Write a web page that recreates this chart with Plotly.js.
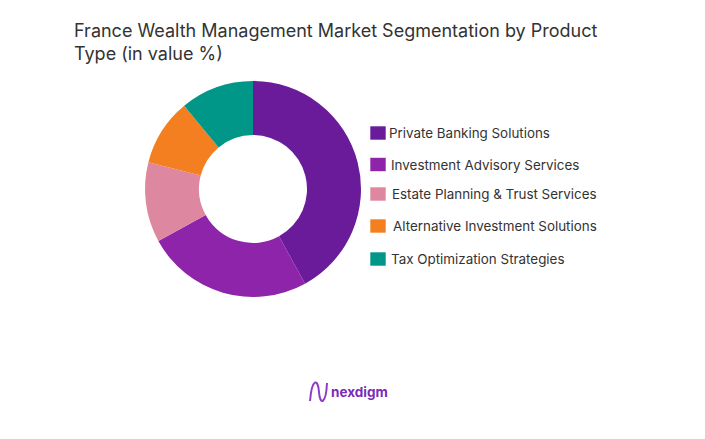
<!DOCTYPE html>
<html>
<head>
<meta charset="utf-8">
<script src="https://cdn.plot.ly/plotly-3.0.1.min.js"></script>
<style>html,body{margin:0;padding:0;background:#fff;}#chart{width:705px;height:439px;}</style>
</head>
<body>
<div id="chart"></div>
<script>
var categories = ["Private Banking Solutions", "Investment Advisory Services", "Estate Planning & Trust Services", "Alternative Investment Solutions", "Tax Optimization Strategies"];
var values = [42, 25, 12, 10, 11];
var colors = ["#6A1B9A", "#8E24AA", "#DE87A0", "#F47F20", "#009688"];
var titleText = "France Wealth Management Market Segmentation by Product<br>Type (in value %)";
var brand = "nexdigm";

var W = 705, H = 439;
function px(x){return x / W;}
function py(y){return 1 - y / H;}

var legendY = [133, 164.5, 194, 226, 259];
var legendTextX = [387, 389, 390, 391, 389];

var shapes = [], annotations = [];
categories.forEach(function(c, i){
  shapes.push({type:"rect", xref:"paper", yref:"paper",
    x0:px(370), x1:px(386), y0:py(legendY[i]+7), y1:py(legendY[i]-7),
    fillcolor:colors[i], line:{width:1, color:"rgba(255,255,255,0.6)"}});
  annotations.push({xref:"paper", yref:"paper", x:px(legendTextX[i]), y:py(legendY[i]),
    xanchor:"left", yanchor:"middle", showarrow:false, text:c,
    font:{family:"Inter, 'Open Sans', sans-serif", size:13.4, color:"#333333"}});
});
// title
annotations.push({xref:"paper", yref:"paper", x:px(72), y:py(42.5), xanchor:"left", yanchor:"middle",
  showarrow:false, align:"left", text:titleText,
  font:{family:"Inter, 'Open Sans', sans-serif", size:18, color:"#333333"}});
// brand logo
annotations.push({xref:"paper", yref:"paper", x:px(329), y:py(392), xanchor:"left", yanchor:"middle",
  showarrow:false, text:"<b>"+brand+"</b>", font:{family:"Inter, sans-serif", size:13.5, color:"#7A2BB8"}});
shapes.push({type:"path", xref:"paper", yref:"paper",
  path:"M "+px(310)+" "+py(401)+" C "+px(312)+" "+py(378)+" "+px(318)+" "+py(378)+" "+px(319)+" "+py(392)+" C "+px(320)+" "+py(406)+" "+px(326)+" "+py(404)+" "+px(327)+" "+py(383),
  line:{color:"#8E3CC8", width:2}});

var data = [{
  type:"pie", labels:categories, values:values, hole:0.5, sort:false,
  direction:"clockwise", rotation:0, textinfo:"none", hoverinfo:"label+percent",
  marker:{colors:colors, line:{width:0}},
  domain:{x:[px(145), px(361)], y:[py(297), py(81)]},
  showlegend:false
}];

var layout = {
  width:W, height:H, margin:{l:0, r:0, t:0, b:0},
  paper_bgcolor:"#ffffff", plot_bgcolor:"#ffffff",
  showlegend:false,
  shapes:shapes, annotations:annotations
};
Plotly.newPlot("chart", data, layout, {displayModeBar:false, staticPlot:true});
</script>
</body>
</html>
